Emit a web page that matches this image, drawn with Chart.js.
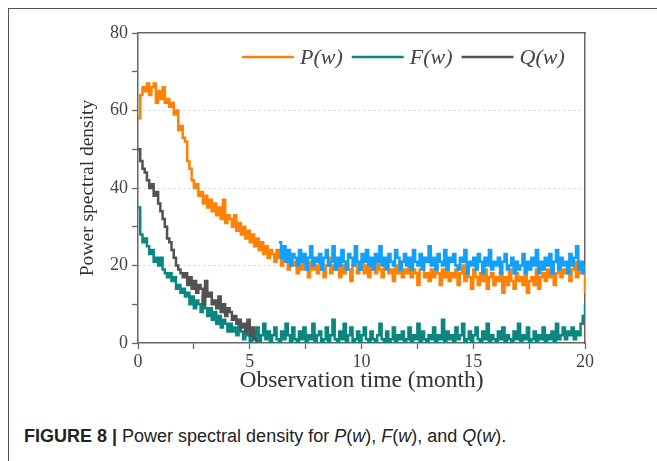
<!DOCTYPE html>
<html>
<head>
<meta charset="utf-8">
<script src="https://cdn.jsdelivr.net/npm/chart.js@4/dist/chart.umd.min.js"></script>
<style>
  html, body { margin: 0; padding: 0; background: #fff; }
  #wrap { position: relative; width: 657px; height: 461px; overflow: hidden; }
  #frameTop { position: absolute; left: 8px; top: 8px; width: 649px; height: 0; border-top: 1.5px solid #555; }
  #frameLeft { position: absolute; left: 8px; top: 8px; width: 0; height: 453px; border-left: 1.5px solid #555; }
  #c { position: absolute; left: 0; top: 0; }
  #caption { position: absolute; left: 24px; top: 426px; font: 18px "Liberation Sans", Arial, sans-serif; color: #222; white-space: nowrap; }
  #caption b { font-weight: bold; }
</style>
</head>
<body>
<div id="wrap">
  <div id="frameTop"></div>
  <div id="frameLeft"></div>
  <canvas id="c" width="657" height="400"></canvas>
  <div id="caption"><b>FIGURE 8 |</b> Power spectral density for <i>P</i>(<i>w</i>), <i>F</i>(<i>w</i>), and <i>Q</i>(<i>w</i>).</div>
</div>
<script>
// sampling: one value every 0.1 month
const stepMonths = 0.1;

// P(w), orange, 0 .. 20 months
const pValues = [
  58, 64, 66, 65, 67, 64, 66, 67, 62, 65, 63,
  66, 62, 63, 61, 62, 59, 60, 55, 56, 53,
  52, 47, 45, 42, 40, 41, 38, 39, 36, 38,
  35, 37, 34, 36, 33, 35, 32, 37, 31, 33,
  32, 30, 33, 29, 31, 28, 30, 27, 29, 26,
  28, 25, 27, 24, 26, 23, 25, 22, 24, 23,
  21, 24, 22, 20, 23, 21, 19, 22, 20, 21,
  18, 21, 19, 22, 20, 17, 21, 19, 20, 18,
  21, 19, 17, 20, 22, 18, 20, 19, 21, 17,
  20, 18, 21, 19, 16, 20, 22, 18, 19, 21,
  18, 20, 17, 21, 19, 18, 22, 19, 17, 20,
  21, 18, 19, 16, 20, 18, 21, 17, 19, 18,
  20, 17, 19, 18, 15, 19, 21, 17, 18, 16,
  19, 17, 20, 18, 15, 19, 17, 20, 16, 18,
  17, 19, 15, 18, 20, 16, 18, 17, 14, 19,
  17, 15, 18, 16, 19, 14, 17, 18, 15, 17,
  16, 18, 13, 17, 15, 19, 16, 14, 18, 16,
  17, 15, 18, 13, 16, 17, 15, 19, 14, 17,
  18, 16, 19, 17, 20, 15, 18, 21, 17, 19,
  18, 20, 16, 19, 21, 17, 20, 18, 19, 13
];

// F(w), teal, 0 .. 20 months
const fValues = [
  35, 28, 26, 27, 25, 23, 24, 21, 22, 20, 22,
  19, 18, 17, 18, 16, 17, 14, 15, 13, 14,
  12, 13, 10, 12, 9, 11, 10, 8, 12, 9,
  7, 9, 6, 8, 5, 7, 4, 6, 5, 3,
  5, 3, 4, 2, 5, 3, 1, 4, 2, 0,
  3, 1, 4, 0, 2, 5, 1, 3, 0, 2,
  4, 1, 0, 3, 1, 5, 2, 0, 4, 1,
  0, 3, 1, 4, 0, 2, 1, 5, 0, 2,
  3, 0, 1, 4, 0, 2, 6, 1, 0, 3,
  1, 5, 0, 2, 4, 0, 1, 3, 0, 2,
  4, 1, 0, 3, 1, 0, 2, 5, 1, 0,
  3, 0, 1, 4, 0, 2, 1, 3, 0, 1,
  4, 0, 2, 1, 5, 0, 3, 1, 0, 2,
  1, 4, 0, 2, 1, 6, 0, 3, 1, 2,
  0, 4, 1, 2, 5, 0, 1, 3, 0, 2,
  4, 1, 0, 3, 1, 5, 0, 2, 1, 0,
  3, 1, 4, 0, 2, 1, 0, 3, 1, 5,
  0, 2, 1, 4, 0, 1, 3, 0, 2, 1,
  4, 0, 2, 1, 3, 0, 5, 1, 2, 4,
  1, 3, 2, 4, 1, 3, 2, 5, 7, 10
];

// Q(w), dark grey, 0 .. 5.3 months
const qValues = [
  50, 47, 45, 44, 42, 40, 41, 38, 39, 36, 34,
  32, 30, 27, 26, 24, 22, 20, 19, 18, 17,
  18, 15, 17, 14, 16, 13, 15, 14, 10, 16,
  12, 13, 10, 11, 9, 12, 8, 10, 7, 9,
  8, 6, 7, 5, 6, 4, 5, 3, 6, 2,
  4, 1, 0
];

// unlabelled blue trace, 6.3 .. 20 months
const blueStart = 6.3;
const blueValues = [
  26, 22, 25, 21, 24, 20, 23, 22,
  20, 24, 21, 23, 19, 22, 25, 20, 22, 21,
  23, 19, 22, 24, 20, 21, 25, 19, 22, 20,
  24, 21, 19, 23, 22, 20, 25, 21, 19, 23,
  21, 24, 20, 22, 19, 23, 21, 25, 20, 22,
  19, 23, 21, 20, 24, 22, 19, 21, 23, 20,
  22, 19, 24, 21, 20, 23, 19, 22, 21, 25,
  20, 22, 19, 23, 21, 20, 24, 19, 22, 21,
  23, 20, 19, 22, 21, 24, 18, 21, 20, 22,
  19, 23, 21, 18, 22, 20, 24, 19, 21, 20,
  22, 18, 21, 23, 19, 20, 22, 18, 21, 19,
  20, 23, 18, 21, 19, 22, 20, 24, 18, 21,
  19, 22, 20, 23, 18, 21, 24, 19, 22, 20,
  21, 18, 23, 20, 22, 25, 19, 21, 18, 20
];

const xTicksMajor = [0, 5, 10, 15, 20];
const yTicksMajor = [0, 20, 40, 60, 80];
const yGridLines = [20, 40, 60];

const toPoints = (vals, start) => vals.map((v, i) => ({ x: +(start + i * stepMonths).toFixed(2), y: v }));

const serif = '"Liberation Serif", "Times New Roman", serif';

// legend drawn inside the plot, top right
const innerLegend = {
  id: 'innerLegend',
  afterDraw(chart) {
    const ctx = chart.ctx;
    const items = chart.data.datasets.filter(d => d.legendText);
    items.sort((a, b) => a.legendPos - b.legendPos);
    let x = chart.chartArea.left + 104;
    const y = chart.chartArea.top + 24;
    ctx.save();
    ctx.font = 'italic 22px ' + serif;
    ctx.textBaseline = 'middle';
    items.forEach(d => {
      ctx.strokeStyle = d.borderColor;
      ctx.lineWidth = 2.5;
      ctx.beginPath();
      ctx.moveTo(x, y);
      ctx.lineTo(x + 52, y);
      ctx.stroke();
      x += 58;
      ctx.fillStyle = '#444';
      ctx.fillText(d.legendText, x, y + 1);
      x += ctx.measureText(d.legendText).width + 9;
    });
    ctx.restore();
  }
};

new Chart(document.getElementById('c'), {
  type: 'line',
  data: {
    datasets: [
      { data: toPoints(blueValues, blueStart), borderColor: '#13a0fb', order: 0 },
      { data: toPoints(pValues, 0), borderColor: '#ff8205', order: 1, legendText: 'P(w)', legendPos: 0 },
      { data: toPoints(qValues, 0), borderColor: '#525252', order: 2, legendText: 'Q(w)', legendPos: 2 },
      { data: toPoints(fValues, 0), borderColor: '#0b8780', order: 3, legendText: 'F(w)', legendPos: 1 }
    ]
  },
  options: {
    responsive: false,
    animation: false,
    datasets: {
      line: { stepped: true, borderWidth: 2.5, pointRadius: 0, tension: 0, fill: false }
    },
    layout: { padding: { left: 0, top: 33, right: 72, bottom: 0 } },
    plugins: { legend: { display: false }, tooltip: { enabled: false } },
    scales: {
      x: {
        type: 'linear', position: 'bottom', min: 0, max: 20,
        afterFit: s => { s.height = 57; },
        ticks: {
          stepSize: 2.5, autoSkip: false, maxRotation: 0, padding: 2,
          color: '#444', font: { family: serif, size: 18 },
          callback: v => xTicksMajor.includes(v) ? String(v) : ''
        },
        grid: { drawOnChartArea: false, tickLength: 6, tickColor: '#666', tickWidth: 1.3 },
        border: { color: '#666', width: 1.5 },
        title: {
          display: true, text: 'Observation time (month)', color: '#333',
          font: { family: serif, size: 23.5 }, padding: { top: 0, bottom: 5 }
        }
      },
      y: {
        type: 'linear', position: 'left', min: 0, max: 80,
        afterFit: s => { s.width = 138; },
        ticks: {
          stepSize: 10, autoSkip: false, padding: 4,
          color: '#444', font: { family: serif, size: 18 },
          callback: v => yTicksMajor.includes(v) ? String(v) : ''
        },
        grid: {
          tickLength: 6, tickColor: '#666', tickWidth: 1.3, tickBorderDash: [],
          lineWidth: 1,
          color: c => (c.tick && yGridLines.includes(c.tick.value)) ? '#d2d2d2' : 'rgba(0,0,0,0)'
        },
        border: { color: '#666', width: 1.5, dash: [2, 3] },
        title: {
          display: true, text: 'Power spectral density', color: '#333',
          font: { family: serif, size: 19.5 }, padding: { top: 76, bottom: 0 }
        }
      },
      x2: {
        type: 'linear', position: 'top', min: 0, max: 20,
        afterFit: s => { s.height = 0; },
        ticks: { display: false },
        grid: { drawOnChartArea: false, drawTicks: false },
        border: { color: '#666', width: 1.5 }
      },
      y2: {
        type: 'linear', position: 'right', min: 0, max: 80,
        afterFit: s => { s.width = 0; },
        ticks: { display: false },
        grid: { drawOnChartArea: false, drawTicks: false },
        border: { color: '#666', width: 1.5 }
      }
    }
  },
  plugins: [innerLegend]
});
</script>
</body>
</html>
